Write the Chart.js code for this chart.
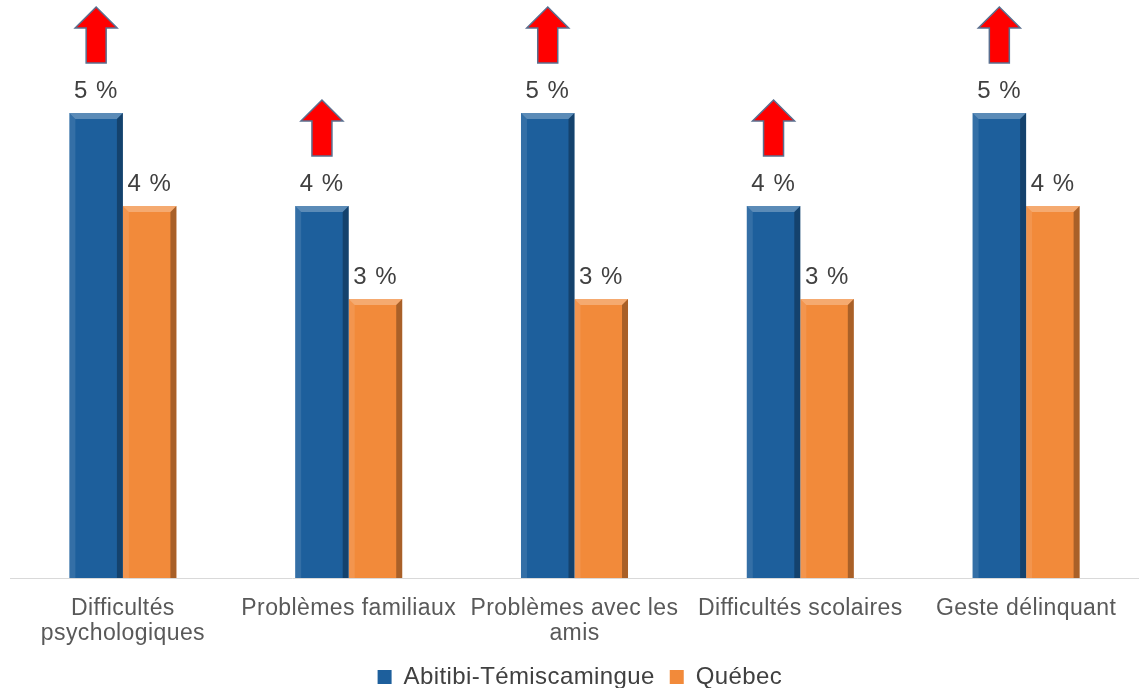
<!DOCTYPE html>
<html>
<head>
<meta charset="utf-8">
<script src="https://cdn.jsdelivr.net/npm/chart.js@4/dist/chart.umd.min.js"></script>
<style>
  html, body { margin: 0; padding: 0; background: #fff; }
  #wrap { width: 1139px; height: 688px; }
</style>
</head>
<body>
<div id="wrap"><canvas id="chart"></canvas></div>
<script>
const categories = [
    ['Difficultés', 'psychologiques'],
    'Problèmes familiaux',
    ['Problèmes avec les', 'amis'],
    'Difficultés scolaires',
    'Geste délinquant'
];
const abitibi = [5, 4, 5, 4, 5];
const quebec = [4, 3, 3, 3, 4];
const arrowUp = [true, true, true, true, true];   // flèche rouge au-dessus de la barre régionale

const blue = '#1d5f9c';
const orange = '#f28a3a';
const fontFamily = '"Liberation Sans", Arial, sans-serif';

// léger espacement des lettres, comme dans l'original
const spacingPlugin = {
    id: 'spacing',
    beforeInit(chart) { chart.ctx.letterSpacing = '0.4px'; },
    beforeDraw(chart) { chart.ctx.letterSpacing = '0.4px'; }
};

// effet biseauté sur chaque barre
const bevelPlugin = {
    id: 'bevel',
    afterDatasetsDraw(chart) {
        const ctx = chart.ctx;
        chart.data.datasets.forEach((ds, i) => {
            chart.getDatasetMeta(i).data.forEach(bar => {
                const x0 = bar.x - bar.width / 2, x1 = bar.x + bar.width / 2;
                const y0 = bar.y, y1 = bar.base;
                const b = 6;
                ctx.save();
                ctx.fillStyle = 'rgba(255,255,255,0.28)';
                ctx.beginPath();
                ctx.moveTo(x0, y0); ctx.lineTo(x1, y0); ctx.lineTo(x1 - b, y0 + b); ctx.lineTo(x0 + b, y0 + b);
                ctx.closePath(); ctx.fill();
                ctx.fillStyle = 'rgba(255,255,255,0.10)';
                ctx.beginPath();
                ctx.moveTo(x0, y0); ctx.lineTo(x0 + b, y0 + b); ctx.lineTo(x0 + b, y1); ctx.lineTo(x0, y1);
                ctx.closePath(); ctx.fill();
                ctx.fillStyle = 'rgba(0,0,0,0.30)';
                ctx.beginPath();
                ctx.moveTo(x1, y0); ctx.lineTo(x1 - b, y0 + b); ctx.lineTo(x1 - b, y1); ctx.lineTo(x1, y1);
                ctx.closePath(); ctx.fill();
                ctx.restore();
            });
        });
    }
};

// étiquettes de valeurs et flèches
const labelPlugin = {
    id: 'valueLabels',
    afterDatasetsDraw(chart) {
        const ctx = chart.ctx;
        ctx.save();
        ctx.letterSpacing = '1px';
        ctx.font = '24px ' + fontFamily;
        ctx.fillStyle = '#404040';
        ctx.textAlign = 'center';
        ctx.textBaseline = 'alphabetic';
        chart.data.datasets.forEach((ds, i) => {
            chart.getDatasetMeta(i).data.forEach((bar, j) => {
                ctx.fillText(ds.data[j] + ' %', bar.x, bar.y - 15);
            });
        });
        const meta = chart.getDatasetMeta(0);
        meta.data.forEach((bar, j) => {
            if (!arrowUp[j]) return;
            const cx = bar.x, bottom = bar.y - 50;
            const tip = bottom - 56, headBase = tip + 21;
            ctx.beginPath();
            ctx.moveTo(cx, tip);
            ctx.lineTo(cx + 21, headBase);
            ctx.lineTo(cx + 10, headBase);
            ctx.lineTo(cx + 10, bottom);
            ctx.lineTo(cx - 10, bottom);
            ctx.lineTo(cx - 10, headBase);
            ctx.lineTo(cx - 21, headBase);
            ctx.closePath();
            ctx.fillStyle = '#ff0000';
            ctx.fill();
            ctx.lineWidth = 1.5;
            ctx.strokeStyle = '#5a6f8f';
            ctx.stroke();
        });
        ctx.restore();
    }
};

new Chart(document.getElementById('chart'), {
    type: 'bar',
    data: {
        labels: categories,
        datasets: [
            { label: 'Abitibi-Témiscamingue', data: abitibi, backgroundColor: blue, borderWidth: 0 },
            { label: 'Québec', data: quebec, backgroundColor: orange, borderWidth: 0 }
        ]
    },
    options: {
        responsive: true,
        maintainAspectRatio: false,
        animation: false,
        layout: { padding: { left: 10, right: 0, top: 20, bottom: 0 } },
        datasets: {
            bar: { categoryPercentage: 0.474, barPercentage: 1 }
        },
        scales: {
            x: {
                grid: { display: false, drawTicks: false },
                border: { display: true, color: '#d9d9d9', width: 1 },
                ticks: {
                    color: '#595959',
                    font: { family: fontFamily, size: 23, lineHeight: '25px' },
                    padding: 18,
                    maxRotation: 0,
                    autoSkip: false
                },
                afterFit(scale) { scale.height = 72; }
            },
            y: { display: false, min: 0, max: 6 }
        },
        plugins: {
            legend: {
                position: 'bottom',
                maxHeight: 38,
                labels: {
                    color: '#404040',
                    font: { family: fontFamily, size: 24 },
                    boxWidth: 14,
                    boxHeight: 14,
                    padding: 15
                }
            },
            tooltip: { enabled: false }
        }
    },
    plugins: [spacingPlugin, bevelPlugin, labelPlugin]
});
</script>
</body>
</html>
